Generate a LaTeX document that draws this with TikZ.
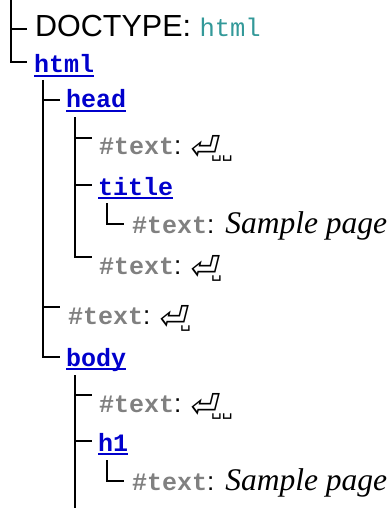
\documentclass[tikz,border=0pt]{standalone}
\usepackage{fontspec}
\setmainfont{Liberation Sans}
\newfontfamily\monof{Liberation Mono}
\newfontfamily\seriff{Liberation Serif}
\newfontfamily\dejavu{DejaVu Sans}
\newfontfamily\dejavuslant[FakeSlant=0.25]{DejaVu Sans}
\definecolor{linkblue}{HTML}{0000CC}
\definecolor{textgray}{HTML}{808080}
\definecolor{dtteal}{HTML}{339999}
\newcommand{\nlsym}[1]{\raisebox{-5pt}{\dejavuslant\fontsize{33}{33}\selectfont ⏎}\kern-5pt{\dejavu\fontsize{17}{17}\selectfont\raisebox{-3pt}{#1}}}
\newcommand{\txtlabel}{{\monof\bfseries\color{textgray}\#text}{\fontsize{26}{26}\selectfont:}\ }
\newcommand{\samplepage}{\kern4pt{\seriff\itshape\fontsize{31.5}{31.5}\selectfont Sample page}}
\tikzset{
  tree/.style={line width=2pt},
  tag/.style={font=\monof\bfseries\fontsize{25}{25}\selectfont, text=linkblue, inner sep=0pt, anchor=base west},
  txt/.style={font=\fontsize{25}{25}\selectfont, inner sep=0pt, anchor=base west},
  uline/.style={draw=linkblue, line width=1.5pt}
}
\begin{document}
\begin{tikzpicture}[x=1pt,y=-1pt]
\useasboundingbox (0,0) rectangle (391,508);
% nodes (placed at their baselines)
\node[txt, font=\fontsize{30.5}{30.5}\selectfont] (doctype) at (35,37) {DOCTYPE: {\monof\fontsize{25.5}{25.5}\selectfont\color{dtteal}html}};
\node[tag] (html) at (34,73) {html};
\node[tag] (head) at (66,108) {head};
\node[txt] (t1) at (99,154) {\txtlabel\nlsym{␣␣}};
\node[tag] (title) at (98,195) {title};
\node[txt] (t2) at (132,233) {\txtlabel\samplepage};
\node[txt] (t3) at (99,274) {\txtlabel\nlsym{␣}};
\node[txt] (t4) at (68,324) {\txtlabel\nlsym{␣}};
\node[tag] (body) at (66,366) {body};
\node[txt] (t5) at (99,412) {\txtlabel\nlsym{␣␣}};
\node[tag] (h1) at (98,451) {h1};
\node[txt] (t6) at (132,490) {\txtlabel\samplepage};
% underlines
\foreach \n in {html,head,title,body,h1}{
  \draw[uline] ([yshift=-3pt]\n.base west) -- ([yshift=-3pt]\n.base east);
}
% trunk coordinates
\coordinate (r0) at (11,0);
\coordinate (r1) at (43,80);
\coordinate (r2) at (75,117);
\coordinate (r3) at (107,203);
\coordinate (r4) at (75,375);
\coordinate (r5) at (107,460);
\coordinate (rend) at (75,508);
% tick levels (relative to baselines)
\coordinate (k-doctype) at ([xshift=-8pt,yshift=8pt]doctype.base west);
\coordinate (k-html) at ([xshift=-7pt,yshift=11pt]html.base west);
\coordinate (k-head) at ([xshift=-6pt,yshift=8pt]head.base west);
\coordinate (k-t1) at ([xshift=-7pt,yshift=16pt]t1.base west);
\coordinate (k-title) at ([xshift=-6pt,yshift=10pt]title.base west);
\coordinate (k-t2) at ([xshift=-8pt,yshift=9pt]t2.base west);
\coordinate (k-t3) at ([xshift=-7pt,yshift=17pt]t3.base west);
\coordinate (k-t4) at ([xshift=-8pt,yshift=17pt]t4.base west);
\coordinate (k-body) at ([xshift=-6pt,yshift=9pt]body.base west);
\coordinate (k-t5) at ([xshift=-7pt,yshift=17pt]t5.base west);
\coordinate (k-h1) at ([xshift=-6pt,yshift=10pt]h1.base west);
\coordinate (k-t6) at ([xshift=-8pt,yshift=9pt]t6.base west);
% connectors
\draw[tree] (r0) |- (k-html);
\draw[tree] (r0 |- k-doctype) -- (k-doctype);
\draw[tree] (r1) |- (k-body);
\draw[tree] (r1 |- k-head) -- (k-head);
\draw[tree] (r1 |- k-t4) -- (k-t4);
\draw[tree] (r2) |- (k-t3);
\draw[tree] (r2 |- k-t1) -- (k-t1);
\draw[tree] (r2 |- k-title) -- (k-title);
\draw[tree] (r3) |- (k-t2);
\draw[tree] (r4) -- (rend);
\draw[tree] (r4 |- k-t5) -- (k-t5);
\draw[tree] (r4 |- k-h1) -- (k-h1);
\draw[tree] (r5) |- (k-t6);
\end{tikzpicture}
\end{document}
